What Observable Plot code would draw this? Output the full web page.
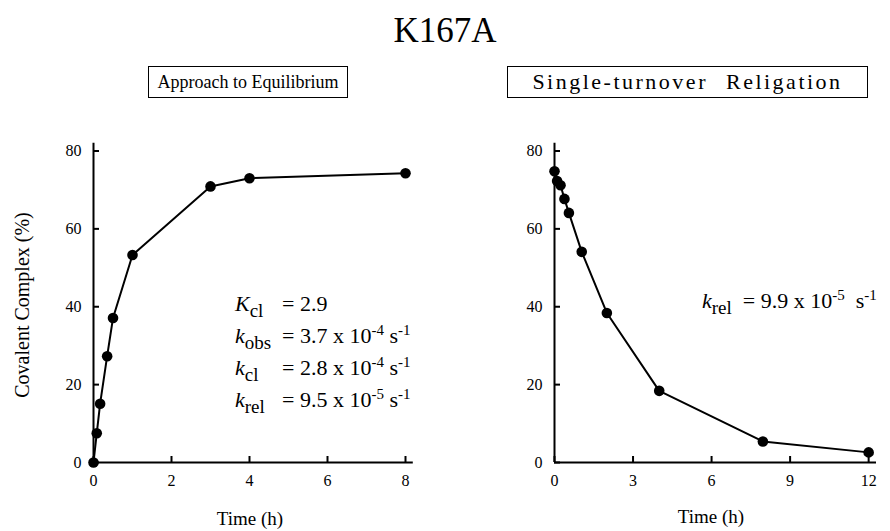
<!DOCTYPE html>
<html>
<head>
<meta charset="utf-8">
<script src="https://cdn.jsdelivr.net/npm/d3@7"></script>
<script src="https://cdn.jsdelivr.net/npm/@observablehq/plot@0.6"></script>
<style>
  html, body { margin: 0; padding: 0; background: #fff; }
  #wrap { position: relative; width: 890px; height: 531px; overflow: hidden; background: #fff;
          font-family: "Liberation Serif", "DejaVu Serif", serif; color: #000; }
  .abs { position: absolute; white-space: nowrap; }
  .panel { position: absolute; top: 0; }
  .box { position: absolute; border: 1.5px solid #000; font-size: 18px; top: 66px; height: 32px;
         box-sizing: border-box; line-height: 30px; text-align: center; white-space: nowrap; }
  .ann { position: absolute; font-size: 22px; line-height: 32px; white-space: nowrap; }
  .ann i { font-style: italic; }
  .ann sub { font-size: 19px; vertical-align: -6px; line-height: 0; }
  .ann sup { font-size: 15px; vertical-align: 8px; line-height: 0; }
  .sym { display: inline-block; width: 47px; }
</style>
</head>
<body>
<div id="wrap">
  <div class="abs" style="left:445px; top:11px; transform:translateX(-50%); font-size:35px;">K167A</div>
  <div class="box" style="left:148px; width:200px;">Approach to Equilibrium</div>
  <div class="box" style="left:507px; width:361px; font-size:22px; letter-spacing:2.5px; word-spacing:10px;">Single-turnover Religation</div>
  <div class="abs" style="left:22px; top:305px; transform:translate(-50%,-50%) rotate(-90deg); font-size:20px;">Covalent Complex (%)</div>
  <div class="abs" style="left:250px; top:508px; transform:translateX(-50%); font-size:19px;">Time (h)</div>
  <div class="abs" style="left:711px; top:506px; transform:translateX(-50%); font-size:19px;">Time (h)</div>
  <div class="ann" style="left:235px; top:288px;">
    <div><span class="sym"><i>K</i><sub>cl</sub></span>= 2.9</div>
    <div><span class="sym"><i>k</i><sub>obs</sub></span>= 3.7 x 10<sup>-4</sup> s<sup>-1</sup></div>
    <div><span class="sym"><i>k</i><sub>cl</sub></span>= 2.8 x 10<sup>-4</sup> s<sup>-1</sup></div>
    <div><span class="sym"><i>k</i><sub>rel</sub></span>= 9.5 x 10<sup>-5</sup> s<sup>-1</sup></div>
  </div>
  <div class="ann" style="left:702px; top:285px;">
    <div><i>k</i><sub>rel</sub>&nbsp;&nbsp;= 9.9 x 10<sup>-5</sup>&nbsp; s<sup>-1</sup></div>
  </div>
  <div id="left" class="panel" style="left:0px;"></div>
  <div id="right" class="panel" style="left:445px;"></div>
</div>
<script>
// Approach to Equilibrium
const eqTime = [0, 0.083, 0.17, 0.35, 0.5, 1, 3, 4, 8];
const eqComplex = [0, 7.5, 15.1, 27.3, 37.1, 53.3, 70.9, 73.0, 74.3];
// Single-turnover Religation
const relTime = [0, 0.1, 0.23, 0.38, 0.55, 1.04, 2, 4, 7.96, 12];
const relComplex = [74.8, 72.3, 71.2, 67.7, 64.1, 54.1, 38.4, 18.4, 5.4, 2.6];

const yTicks = [0, 20, 40, 60, 80];
const eqXTicks = [0, 2, 4, 6, 8];
const relXTicks = [0, 3, 6, 9, 12];

const eqData = eqTime.map((t, i) => ({t, y: eqComplex[i]}));
const relData = relTime.map((t, i) => ({t, y: relComplex[i]}));

function panel(data, xDomain, xTicks, marginLeft, marginRight) {
  return Plot.plot({
    width: 445,
    height: 531,
    marginLeft,
    marginRight,
    marginTop: 142.7,
    marginBottom: 69,
    style: {fontFamily: "Liberation Serif, DejaVu Serif, serif", fontSize: "16px", background: "transparent", overflow: "visible", color: "#000"},
    x: {domain: xDomain},
    y: {domain: [0, 82]},
    marks: [
      Plot.axisX({ticks: xTicks, tickSize: -6, tickPadding: 18, strokeWidth: 2, tickFormat: d => d, label: null, fontSize: 16}),
      Plot.axisY({ticks: yTicks, tickSize: -6, tickPadding: 18, strokeWidth: 2, tickFormat: d => d, label: null, fontSize: 16}),
      Plot.ruleY([0], {stroke: "#000", strokeWidth: 2}),
      Plot.ruleX([0], {stroke: "#000", strokeWidth: 2}),
      Plot.line(data, {x: "t", y: "y", stroke: "#000", strokeWidth: 2}),
      Plot.dot(data, {x: "t", y: "y", r: 5.3, fill: "#000", stroke: "none"})
    ]
  });
}

document.getElementById("left").append(panel(eqData, [0, 8.2], eqXTicks, 93, 32.2));
document.getElementById("right").append(panel(relData, [0, 12.3], relXTicks, 109, 14));
</script>
</body>
</html>
